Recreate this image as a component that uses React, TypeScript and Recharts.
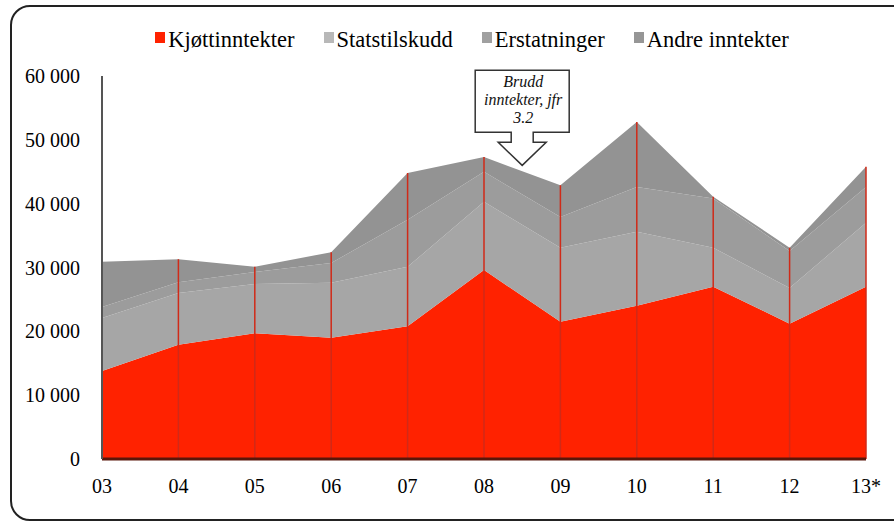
import {
  AreaChart,
  Area,
  XAxis,
  YAxis,
  Legend,
  ReferenceLine,
  ReferenceDot,
} from 'recharts'

const years = ['03', '04', '05', '06', '07', '08', '09', '10', '11', '12', '13*']
const kjott = [13800, 17900, 19700, 19000, 20800, 29600, 21500, 24000, 27000, 21200, 27000]
const stats = [8300, 8100, 7700, 8600, 9300, 10700, 11600, 11600, 6100, 5600, 10000]
const erst = [1700, 1700, 1900, 3100, 7400, 4700, 4800, 7000, 7700, 5800, 5600]
const andre = [7100, 3600, 800, 1700, 7300, 2300, 5000, 10200, 300, 500, 3200]
const yTicks = [0, 10000, 20000, 30000, 40000, 50000, 60000]

const series = [
  { key: 'kjott', name: 'Kjøttinntekter', color: '#ff2200', swatch: '#ff2200' },
  { key: 'stats', name: 'Statstilskudd', color: '#a6a6a6', swatch: '#b8b8b8' },
  { key: 'erst', name: 'Erstatninger', color: '#9c9c9c', swatch: '#a0a0a0' },
  { key: 'andre', name: 'Andre inntekter', color: '#939393', swatch: '#969696' },
]

const data = years.map((y, i) => ({
  i,
  year: y,
  kjott: kjott[i],
  stats: stats[i],
  erst: erst[i],
  andre: andre[i],
  total: kjott[i] + stats[i] + erst[i] + andre[i],
}))

const font = 'Liberation Serif'

function formatThousands(v: number): string {
  if (v === 0) return '0'
  return `${Math.round(v / 1000)} 000`
}

function LegendContent() {
  return (
    <div style={{ display: 'flex', justifyContent: 'center', gap: 29, fontFamily: font, fontSize: 22.5, color: '#000', paddingLeft: 50 }}>
      {series.map((s) => (
        <div key={s.key} style={{ display: 'flex', alignItems: 'center' }}>
          <span style={{ display: 'inline-block', width: 10, height: 11, background: s.swatch, marginRight: 3, marginTop: -6 }} />
          <span>{s.name}</span>
        </div>
      ))}
    </div>
  )
}

function Callout(props: any) {
  const { cx, cy } = props
  if (cx == null || cy == null) return null
  const pts = [
    [-47, -95], [47, -95], [47, -33], [11, -33], [11, -23], [24, -23], [0, 0],
    [-24, -23], [-11, -23], [-11, -33], [-47, -33],
  ].map(([dx, dy]) => `${cx + dx},${cy + dy}`).join(' ')
  const lines = ['Brudd', 'inntekter, jfr', '3.2']
  return (
    <g>
      <polygon points={pts} fill="#fff" stroke="#333" strokeWidth={1.5} />
      {lines.map((t, k) => (
        <text key={k} x={cx + 1} y={cy - 78 + k * 18} textAnchor="middle" style={{ fontFamily: font, fontStyle: 'italic', fontSize: 16 }} fill="#111">
          {t}
        </text>
      ))}
    </g>
  )
}

export default function App() {
  return (
    <div style={{ position: 'absolute', left: 0, top: 0, width: 894, height: 523, overflow: 'hidden', background: '#fff', fontFamily: font }}>
      <div style={{ position: 'absolute', left: 10, top: 5, width: 1000, height: 512, border: '2px solid #222', borderRadius: 20 }} />
      <AreaChart width={894} height={523} data={data} margin={{ top: 76, right: 28, bottom: 34, left: 0 }} style={{ fontFamily: font }}>
        <XAxis
          type="number"
          dataKey="i"
          domain={[0, 10]}
          ticks={data.map((d) => d.i)}
          tickFormatter={(v: number) => years[v]}
          height={30}
          tickSize={0}
          tickMargin={20}
          axisLine={{ stroke: '#5a160a', strokeWidth: 3 }}
          tick={{ fill: '#000', fontSize: 20, fontFamily: font }}
        />
        <YAxis
          domain={[0, 60000]}
          ticks={yTicks}
          tickFormatter={formatThousands}
          width={102}
          tickSize={0}
          tickMargin={22}
          axisLine={{ stroke: '#555', strokeWidth: 2 }}
          tick={{ fill: '#000', fontSize: 20, fontFamily: font }}
        />
        {series.map((s) => (
          <Area
            key={s.key}
            type="linear"
            dataKey={s.key}
            name={s.name}
            stackId="1"
            stroke="none"
            fill={s.color}
            fillOpacity={1}
            isAnimationActive={false}
          />
        ))}
        {data.slice(1).map((d) => (
          <ReferenceLine
            key={d.i}
            segment={[{ x: d.i, y: 0 }, { x: d.i, y: d.total }]}
            stroke="#d02a18"
            strokeWidth={1.5}
          />
        ))}
        <ReferenceDot x={5.5} y={46000} ifOverflow="visible" shape={<Callout />} />
        <Legend
          layout="horizontal"
          verticalAlign="middle"
          align="center"
          content={<LegendContent />}
          wrapperStyle={{ top: 27, left: 0, width: 894 }}
        />
      </AreaChart>
    </div>
  )
}
